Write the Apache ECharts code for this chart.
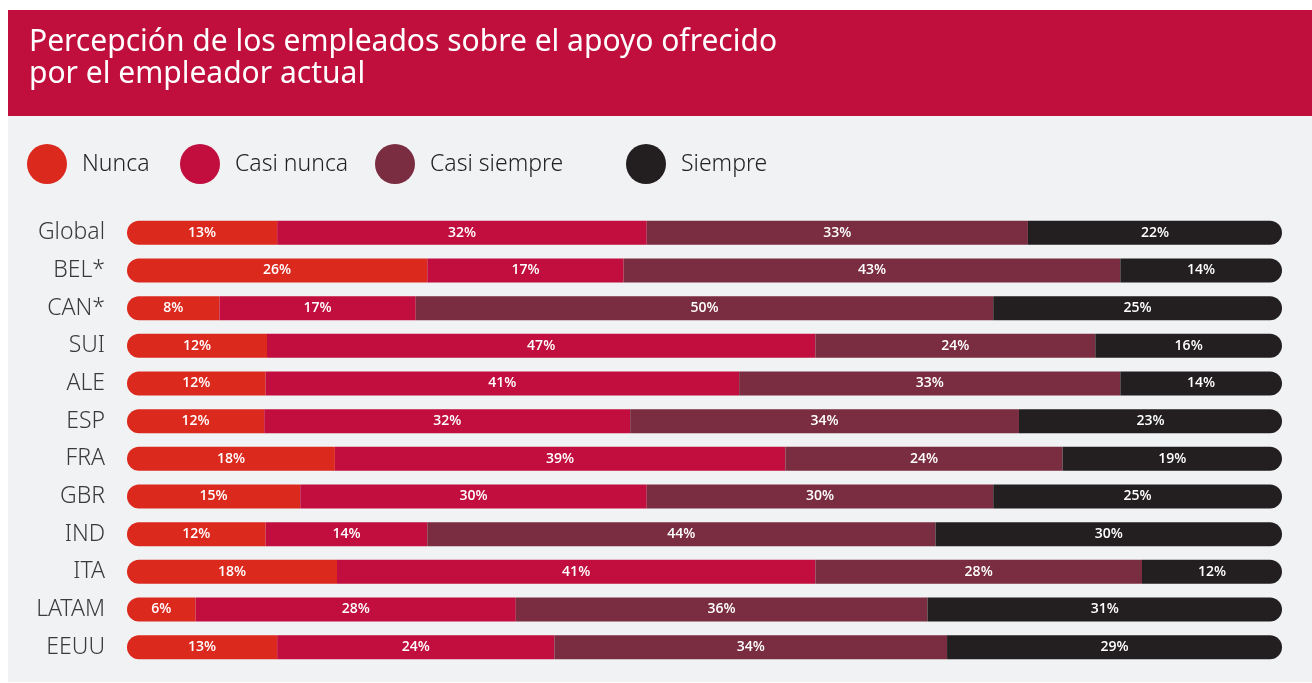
<!DOCTYPE html>
<html>
<head>
<meta charset="utf-8">
<script src="https://cdn.jsdelivr.net/npm/echarts@6/dist/echarts.min.js"></script>
<style>
html,body{margin:0;padding:0;background:#ffffff;}
#chart{width:1312px;height:683px;}
</style>
</head>
<body>
<div id="chart"></div>
<script>
const categories = ['Global','BEL*','CAN*','SUI','ALE','ESP','FRA','GBR','IND','ITA','LATAM','EEUU'];
const nunca       = [13, 26,  8, 12, 12, 12, 18, 15, 12, 18,  6, 13];
const casiNunca   = [32, 17, 17, 47, 41, 32, 39, 30, 14, 41, 28, 24];
const casiSiempre = [33, 43, 50, 24, 33, 34, 24, 30, 44, 28, 36, 34];
const siempre     = [22, 14, 25, 16, 14, 23, 19, 25, 30, 12, 31, 29];
const seriesNames = ['Nunca','Casi nunca','Casi siempre','Siempre'];
const title = 'Percepción de los empleados sobre el apoyo ofrecido\npor el empleador actual';

const raw = [nunca, casiNunca, casiSiempre, siempre];
const colors = ['#dc291e','#c10e3e','#7a2d40','#231f20'];
const totals = categories.map((c,i)=>raw.reduce((s,a)=>s+a[i],0));

const chart = echarts.init(document.getElementById('chart'));
const radii = [[12,0,0,12],[0,0,0,0],[0,0,0,0],[0,12,12,0]];
const legendLefts = [22, 175, 370, 621];

const option = {
  backgroundColor: '#ffffff',
  animation: false,
  graphic: [
    {type:'rect', z:-10, shape:{x:8,y:10,width:1304,height:106}, style:{fill:'#c00f3c'}},
    {type:'rect', z:-10, shape:{x:8,y:116,width:1304,height:566}, style:{fill:'#f1f2f4'}}
  ],
  title: {
    text: title,
    left: 24, top: 21,
    textStyle: {color:'#ffffff', fontSize:30, fontWeight:'normal', lineHeight:32, fontFamily:'Noto Sans'}
  },
  legend: seriesNames.map((n,i)=>({
    data:[n], left: legendLefts[i], top: 139,
    icon:'circle', itemWidth:60, itemHeight:40, itemGap:0,
    textStyle:{fontSize:23, color:'#222', fontFamily:'Noto Sans', fontWeight:300}
  })),
  grid: {left:127, right:30, top:214, height:452, containLabel:false},
  xAxis: {type:'value', min:0, max:100, show:false},
  yAxis: {
    type:'category', data:categories, inverse:true,
    axisLine:{show:false}, axisTick:{show:false},
    axisLabel:{margin:22, fontSize:23, color:'#3a3a3a', fontFamily:'Noto Sans', fontWeight:300, padding:[7,0,0,0]}
  },
  series: seriesNames.map((n,si)=>({
    name:n, type:'bar', stack:'total', barWidth:24,
    itemStyle:{color:colors[si], borderRadius:radii[si]},
    label:{
      show:true, position:'inside', color:'#ffffff', fontSize:14, fontWeight:600,
      fontFamily:'Open Sans',
      formatter:(p)=>raw[si][p.dataIndex] + '%'
    },
    data: raw[si].map((v,i)=>v/totals[i]*100)
  }))
};
chart.setOption(option);
</script>
</body>
</html>
